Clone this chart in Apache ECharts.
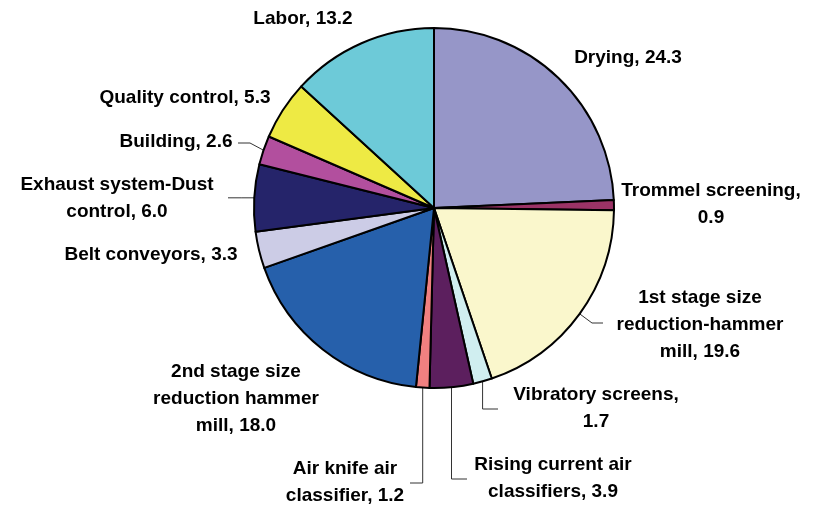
<!DOCTYPE html>
<html>
<head>
<meta charset="utf-8">
<script src="https://cdn.jsdelivr.net/npm/echarts@6/dist/echarts.min.js"></script>
<style>
  html, body { margin: 0; padding: 0; background: #fff; }
  #chart { width: 832px; height: 508px; }
</style>
</head>
<body>
<div id="chart"></div>
<script>
// categories, clockwise from 12 o'clock
var categories = [
    'Drying',
    'Trommel screening',
    '1st stage size\nreduction-hammer\nmill',
    'Vibratory screens',
    'Rising current air\nclassifiers',
    'Air knife air\nclassifier',
    '2nd stage size\nreduction hammer\nmill',
    'Belt conveyors',
    'Exhaust system-Dust\ncontrol',
    'Building',
    'Quality control',
    'Labor'
];
var values = [24.3, 0.9, 19.6, 1.7, 3.9, 1.2, 18.0, 3.3, 6.0, 2.6, 5.3, 13.2];
var colors = ['#9696c8', '#9b3366', '#faf7cc', '#d0eef0', '#5c1f5e', '#f08080',
              '#2660ab', '#ccccE6', '#25246a', '#b24f9e', '#eeea44', '#6dcad8'];

// where each label sits (x, y = centre of text block), how its leader runs
var labelPlace = [
    {x: 628, y: 58},
    {x: 711, y: 204, brk: true},
    {x: 700, y: 325, line: 'diag', bend: [592, 323], end: [603, 323]},
    {x: 596, y: 408, brk: true, line: 'down', endX: 498},
    {x: 553, y: 478, line: 'down', endX: 467},
    {x: 345, y: 482, line: 'down', endX: 410},
    {x: 236, y: 399},
    {x: 151, y: 255},
    {x: 117, y: 198, line: 'flat', endX: 228},
    {x: 176, y: 142, line: 'diag', bend: [250, 143], end: [238, 143]},
    {x: 185, y: 98},
    {x: 303, y: 19}
];

var dom = document.getElementById('chart');
var myChart = echarts.init(dom, null, {renderer: 'canvas'});

var pData = [];
for (var i = 0; i < categories.length; i++) {
    pData.push({
        name: categories[i],
        value: values[i],
        itemStyle: {color: colors[i]},
        labelLine: {show: !!labelPlace[i].line}
    });
}

var option = {
    animation: false,
    backgroundColor: '#fff',
    series: [{
        type: 'pie',
        center: [434, 208],
        radius: 180,
        startAngle: 90,
        clockwise: true,
        avoidLabelOverlap: false,
        data: pData,
        itemStyle: {borderColor: '#000', borderWidth: 2},
        label: {
            show: true,
            position: 'outside',
            color: '#000',
            fontFamily: '"Liberation Sans", Arial, sans-serif',
            fontWeight: 'bold',
            fontSize: 19,
            lineHeight: 27,
            align: 'center',
            formatter: function (p) {
                var sep = labelPlace[p.dataIndex].brk ? ',\n' : ', ';
                return p.name + sep + p.value.toFixed(1);
            }
        },
        labelLine: {
            show: true,
            lineStyle: {color: '#333', width: 1}
        },
        emphasis: {disabled: true},
        labelLayout: function (params) {
            var lp = labelPlace[params.dataIndex];
            var out = {x: lp.x, y: lp.y, align: 'center', verticalAlign: 'middle'};
            var pts = params.labelLinePoints;
            if (lp.line && pts && pts.length) {
                var s = pts[0];
                if (lp.line === 'down') {
                    var ly = lp.y + 1;
                    out.labelLinePoints = [s, [s[0], ly], [lp.endX, ly]];
                } else if (lp.line === 'flat') {
                    out.labelLinePoints = [s, [(s[0] + lp.endX) / 2, s[1]], [lp.endX, s[1]]];
                } else {
                    out.labelLinePoints = [s, lp.bend, lp.end];
                }
            }
            return out;
        }
    }]
};

myChart.setOption(option);
</script>
</body>
</html>
